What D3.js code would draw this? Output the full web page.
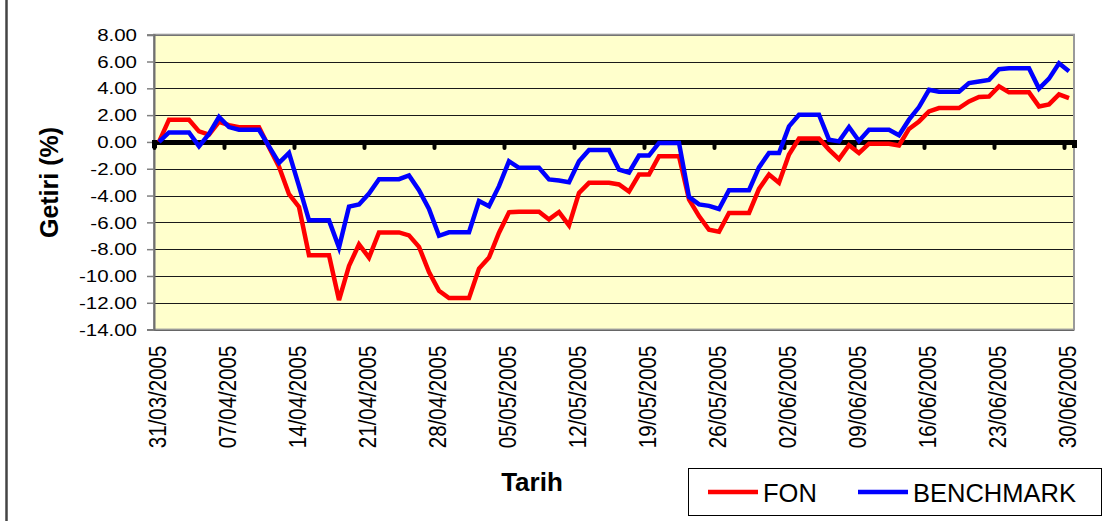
<!DOCTYPE html>
<html>
<head>
<meta charset="utf-8">
<script src="https://cdn.jsdelivr.net/npm/d3@7"></script>
<style>
  body { margin: 0; background: #fff; }
  svg { display: block; font-family: "Liberation Sans", Arial, sans-serif; }
</style>
</head>
<body>
<svg class="chart" width="1110" height="521"></svg>
<script>
// daily values from 31/03/2005 to 30/06/2005 (weekends carry Friday's value)
const startDate = '31/03/2005'
const fon = [
  0, 1.66, 1.66, 1.66, 0.79, 0.55, 1.5,
  1.25, 1.1, 1.1, 1.1, -0.4, -1.85, -3.9,
  -4.85, -8.45, -8.45, -8.45, -11.8, -9.25, -7.64,
  -8.63, -6.75, -6.75, -6.75, -6.97, -7.83, -9.7,
  -11.1, -11.65, -11.65, -11.65, -9.45, -8.63, -6.77,
  -5.25, -5.2, -5.2, -5.2, -5.78, -5.23, -6.22,
  -3.8, -3.05, -3.05, -3.05, -3.17, -3.7, -2.43,
  -2.43, -1.07, -1.07, -1.07, -4.29, -5.53, -6.55,
  -6.7, -5.3, -5.3, -5.3, -3.5, -2.43, -3.05,
  -0.94, 0.25, 0.25, 0.25, -0.57, -1.28, -0.24,
  -0.82, -0.13, -0.13, -0.13, -0.26, 0.97, 1.53,
  2.28, 2.53, 2.53, 2.53, 3.02, 3.35, 3.39,
  4.15, 3.7, 3.7, 3.7, 2.65, 2.8, 3.55,
  3.27
]
const benchmark = [
  0, 0.71, 0.71, 0.71, -0.33, 0.6, 1.86,
  1.11, 0.91, 0.91, 0.91, -0.33, -1.56, -0.82,
  -3.3, -5.85, -5.85, -5.85, -7.88, -4.83, -4.66,
  -3.85, -2.78, -2.78, -2.78, -2.5, -3.6, -5.0,
  -7.0, -6.74, -6.74, -6.74, -4.41, -4.79, -3.3,
  -1.44, -1.93, -1.93, -1.93, -2.8, -2.88, -3.0,
  -1.44, -0.6, -0.6, -0.6, -2.06, -2.28, -1.02,
  -1.02, -0.07, -0.07, -0.07, -4.1, -4.66, -4.77,
  -5.0, -3.6, -3.6, -3.6, -1.9, -0.82, -0.82,
  1.16, 2.03, 2.03, 2.03, 0.17, 0.04, 1.11,
  0.07, 0.91, 0.91, 0.91, 0.5, 1.66, 2.6,
  3.89, 3.74, 3.74, 3.74, 4.39, 4.51, 4.63,
  5.43, 5.5, 5.5, 5.5, 3.98, 4.72, 5.87,
  5.28
]
const tickLabels = [
  '31/03/2005', '07/04/2005', '14/04/2005', '21/04/2005', '28/04/2005',
  '05/05/2005', '12/05/2005', '19/05/2005', '26/05/2005', '02/06/2005',
  '09/06/2005', '16/06/2005', '23/06/2005', '30/06/2005'
]
const yTicks = [-14, -12, -10, -8, -6, -4, -2, 0, 2, 4, 6, 8]
const seriesNames = ['FON', 'BENCHMARK']
const seriesColors = ['#ff0000', '#0000ff']

const plot = { left: 154, right: 1074, top: 34.7, bottom: 329.6 }

const parse = d3.timeParse('%d/%m/%Y')
const t0 = parse(startDate)
const days = fon.map((d, i) => d3.timeDay.offset(t0, i))

const x = d3.scaleTime()
  .domain([t0, d3.timeDay.offset(t0, fon.length)])
  .range([plot.left, plot.right])
const y = d3.scaleLinear()
  .domain([d3.min(yTicks), d3.max(yTicks)])
  .range([plot.bottom, plot.top])

const locale = d3.formatLocale({ decimal: '.', thousands: ',', grouping: [3], currency: ['', ''], minus: '-' })
const fmt = locale.format('.2f')

const svg = d3.select('svg.chart')

// outer chart frame (only the left edge is visible)
svg.append('line')
  .attr('x1', 6.5).attr('x2', 6.5).attr('y1', 0).attr('y2', 521)
  .attr('stroke', '#444').attr('stroke-width', 2.5)

// plot area
svg.append('rect')
  .attr('x', plot.left).attr('y', plot.top)
  .attr('width', plot.right - plot.left).attr('height', plot.bottom - plot.top)
  .attr('fill', '#ffffcc')

// gridlines
svg.append('g')
  .selectAll('line')
  .data(yTicks)
  .join('line')
  .attr('x1', plot.left).attr('x2', plot.right)
  .attr('y1', d => Math.round(y(d)) + 0.5).attr('y2', d => Math.round(y(d)) + 0.5)
  .attr('stroke', '#1a1a1a').attr('stroke-width', 1)

svg.append('rect')
  .attr('x', plot.left).attr('y', plot.top)
  .attr('width', plot.right - plot.left).attr('height', plot.bottom - plot.top)
  .attr('fill', 'none').attr('stroke', '#9a9a9a').attr('stroke-width', 2)

// y axis
const yAxisG = svg.append('g')
  .attr('transform', `translate(${plot.left},0)`)
  .call(d3.axisLeft(y).tickValues(yTicks).tickSize(7).tickPadding(0).tickFormat(fmt))
yAxisG.select('.domain').attr('stroke', '#707070').attr('stroke-width', 2)
yAxisG.selectAll('.tick line').attr('stroke', '#808080').attr('stroke-width', 1.5)
yAxisG.selectAll('.tick text')
  .attr('x', null).attr('dy', null)
  .attr('font-size', 16)
  .attr('fill', '#000')
  .attr('text-anchor', 'end')
  .attr('dominant-baseline', 'central')
  .attr('transform', 'translate(-17,0) scale(1.28,1)')

// x axis along zero, tick marks only
const tickDates = tickLabels.map(parse)
const zeroG = svg.append('g')
  .attr('transform', `translate(0,${y(0)})`)
  .call(d3.axisBottom(x).tickValues(tickDates).tickSizeOuter(0).tickSize(6).tickFormat(''))
zeroG.select('.domain').attr('stroke', '#000').attr('stroke-width', 5)
zeroG.selectAll('.tick line').attr('stroke', '#000').attr('stroke-width', 4).attr('stroke-linecap', 'round')

// x tick labels, low position
const labG = svg.append('g')
  .attr('transform', `translate(0,${plot.bottom})`)
  .call(d3.axisBottom(x).tickValues(tickDates).tickSize(0).tickFormat(d3.timeFormat('%d/%m/%Y')))
labG.select('.domain').remove()
labG.selectAll('.tick text')
  .attr('y', null).attr('dy', null)
  .attr('font-size', 20.5)
  .attr('fill', '#000')
  .attr('text-anchor', 'end')
  .attr('dominant-baseline', 'central')
  .attr('transform', 'translate(3,16) scale(1.18,1) rotate(-90)')

// series lines
const line = d3.line()
  .x((d, i) => x(d3.timeHour.offset(days[i], 12)))
  .y(d => y(d))
svg.append('g')
  .selectAll('path')
  .data([fon, benchmark])
  .join('path')
  .attr('d', line)
  .attr('fill', 'none')
  .attr('stroke', (d, i) => seriesColors[i])
  .attr('stroke-width', 4.5)
  .attr('stroke-linejoin', 'miter')

// axis titles
svg.append('text')
  .attr('transform', 'translate(58,182.5) rotate(-90)')
  .attr('text-anchor', 'middle')
  .attr('font-size', 25).attr('font-weight', 'bold')
  .text('Getiri (%)')
svg.append('text')
  .attr('x', 532).attr('y', 490.5)
  .attr('text-anchor', 'middle')
  .attr('font-size', 26).attr('font-weight', 'bold')
  .text('Tarih')

// legend
const legend = svg.append('g')
legend.append('rect')
  .attr('x', 688.5).attr('y', 468.5).attr('width', 413).attr('height', 47)
  .attr('fill', '#fff').attr('stroke', '#000').attr('stroke-width', 1)
const legendX = [708, 858]
const item = legend.selectAll('g.item')
  .data(seriesNames)
  .join('g')
  .attr('class', 'item')
  .attr('transform', (d, i) => `translate(${legendX[i]},492)`)
item.append('line')
  .attr('x1', 0).attr('x2', 50)
  .attr('stroke', (d, i) => seriesColors[i]).attr('stroke-width', 4.5)
item.append('text')
  .attr('x', 55).attr('y', 9.5)
  .attr('font-size', 25.5)
  .text(d => d)
</script>
</body>
</html>
